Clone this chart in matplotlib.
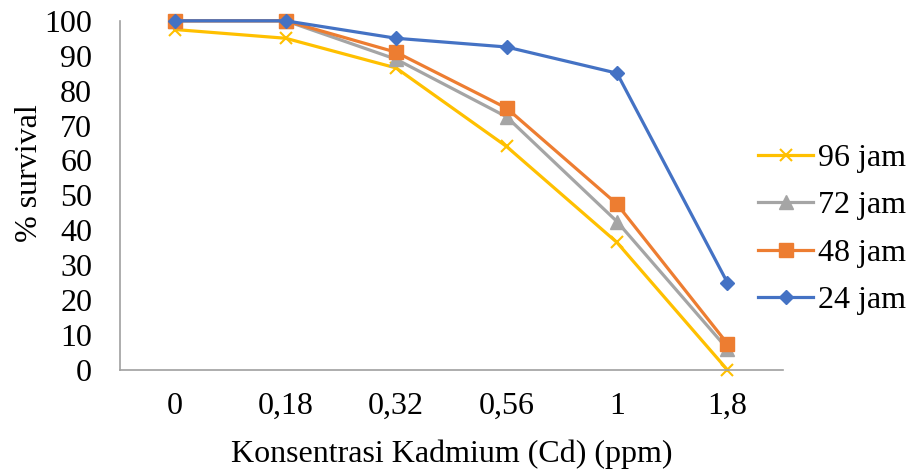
import matplotlib
matplotlib.use("Agg")
import matplotlib.pyplot as plt

categories = ["0", "0,18", "0,32", "0,56", "1", "1,8"]
jam96 = [97.5, 95, 86.5, 64, 36.5, 0]
jam72 = [100, 100, 89, 72.5, 42.5, 6]
jam48 = [100, 100, 91, 75, 47.5, 7.5]
jam24 = [100, 100, 95, 92.5, 85, 25]
series_labels = ["96 jam", "72 jam", "48 jam", "24 jam"]

plt.rcParams['font.family'] = ['Liberation Serif', 'DejaVu Serif']
FS = 23

fig = plt.figure(figsize=(9.09, 4.73), dpi=100)
ax = fig.add_axes([0.132, 0.218, 0.729, 0.738])

x = list(range(len(categories)))
styles = [
    (jam96, "#FFC000", "x", 9, 1.5),
    (jam72, "#A5A5A5", "^", 9.5, 1),
    (jam48, "#ED7D31", "s", 9.5, 1),
    (jam24, "#4472C4", "D", 7.5, 1),
]
for (vals, col, mk, ms, mew), lab in zip(styles, series_labels):
    ax.plot(x, vals, color=col, lw=2.3, marker=mk, markersize=ms,
            markeredgewidth=mew, markeredgecolor=col, markerfacecolor=col,
            label=lab, clip_on=False)

ax.set_xlim(-0.5, len(categories) - 0.5)
ax.set_ylim(0, 100)
ax.set_yticks(range(0, 101, 10))
ax.set_xticks(x)
ax.set_xticklabels(categories)
ax.tick_params(axis='both', length=0, labelsize=FS)
ax.tick_params(axis='x', pad=16)
ax.tick_params(axis='y', pad=20)
for s in ['top', 'right']:
    ax.spines[s].set_visible(False)
for s in ['left', 'bottom']:
    ax.spines[s].set_color('#A0A0A0')
    ax.spines[s].set_linewidth(1.2)

ax.set_xlabel("Konsentrasi Kadmium (Cd) (ppm)", fontsize=FS, labelpad=13)
ax.set_ylabel("% survival", fontsize=FS)
ax.yaxis.set_label_coords(-0.1146, 0.564)

leg = ax.legend(loc='center left', bbox_to_anchor=(0.834, 0.515),
                bbox_transform=fig.transFigure, frameon=False,
                fontsize=FS, handlelength=1.73, handletextpad=0.16,
                labelspacing=0.56, borderaxespad=0, borderpad=0)

fig.savefig("out.png", dpi=100)
